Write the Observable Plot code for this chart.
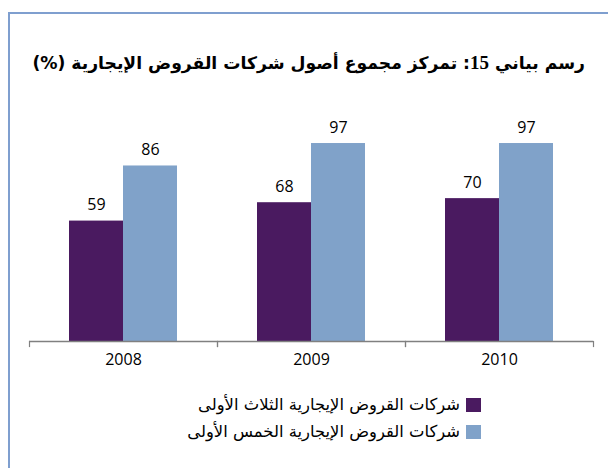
<!DOCTYPE html>
<html>
<head>
<meta charset="utf-8">
<script src="https://cdn.jsdelivr.net/npm/d3@7"></script>
<script src="https://cdn.jsdelivr.net/npm/@observablehq/plot@0.6"></script>
<style>
  html, body { margin: 0; padding: 0; background: #fff; }
  body { width: 608px; height: 468px; position: relative; overflow: hidden; }
  #frame { position: absolute; left: 8px; top: 12px; width: 620px; height: 470px;
           border-top: 2px solid #7f9fcf; border-left: 2px solid #7f9fcf; box-sizing: border-box; }
  #title { position: absolute; right: 23px; top: 52px; direction: rtl; white-space: nowrap;
           font-family: "DejaVu Sans", sans-serif; font-weight: bold; font-size: 17.2px; color: #000; }
  #title .num { font-family: "Liberation Serif", serif; font-size: 19px; }
  #chart { position: absolute; left: 0; top: 0; }
  .leg { position: absolute; right: 127px; direction: rtl; white-space: nowrap; display: flex; align-items: center;
         font-family: "DejaVu Sans", sans-serif; font-size: 16.4px; color: #000; }
  .sw { width: 15px; height: 14px; margin-left: 6px; }
</style>
</head>
<body>
<div id="frame"></div>
<div id="chart"></div>
<div id="title">رسم بياني <span class="num">15</span>: تمركز مجموع أصول شركات القروض الإيجارية (%)</div>
<div id="legend"></div>
<script>
const years = ["2008", "2009", "2010"];
const seriesNames = ["شركات القروض الإيجارية الثلاث الأولى", "شركات القروض الإيجارية الخمس الأولى"];
const top3 = [59, 68, 70];
const top5 = [86, 97, 97];
const colors = ["#4a1a60", "#80a2c9"];

const data = years.flatMap((y, i) => [
  {year: y, series: seriesNames[0], value: top3[i]},
  {year: y, series: seriesNames[1], value: top5[i]}
]);

const H = 380, mTop = 136.9, mBottom = 34, tickLen = 5;
const frameH = H - mTop - mBottom;

const chart = Plot.plot({
  width: 608, height: H,
  marginLeft: 28, marginRight: 14, marginTop: mTop, marginBottom: mBottom,
  fx: {domain: years, padding: 0, axis: null},
  x: {domain: seriesNames, axis: null, paddingInner: 0, paddingOuter: 0.73},
  y: {domain: [0, 100], axis: null, insetBottom: tickLen},
  color: {domain: seriesNames, range: colors},
  style: {fontFamily: "Open Sans", fontSize: "16px", color: "#000", background: "transparent"},
  marks: [
    Plot.barY(data, {fx: "year", x: "series", y: "value", fill: "series"}),
    Plot.text(data, {fx: "year", x: "series", y: "value", text: d => String(d.value), dy: -16, fontSize: 16, fill: "#000"}),
    Plot.ruleY([0], {stroke: "#808080", strokeWidth: 1.5}),
    Plot.frame({anchor: "left", stroke: "#808080", strokeWidth: 1.2, insetTop: frameH - tickLen}),
    Plot.frame({anchor: "right", stroke: "#808080", strokeWidth: 1.2, insetTop: frameH - tickLen}),
    Plot.axisFx({anchor: "bottom", tickSize: 0, tickPadding: 7, label: null, fontSize: 16})
  ]
});
document.getElementById("chart").appendChild(chart);

const legend = document.getElementById("legend");
const legTops = [395, 422];
seriesNames.forEach((s, i) => {
  const row = document.createElement("div");
  row.className = "leg";
  row.style.top = legTops[i] + "px";
  const sw = document.createElement("span");
  sw.className = "sw";
  sw.style.background = colors[i];
  const t = document.createElement("span");
  t.textContent = s;
  row.appendChild(sw);
  row.appendChild(t);
  legend.appendChild(row);
});
</script>
</body>
</html>
